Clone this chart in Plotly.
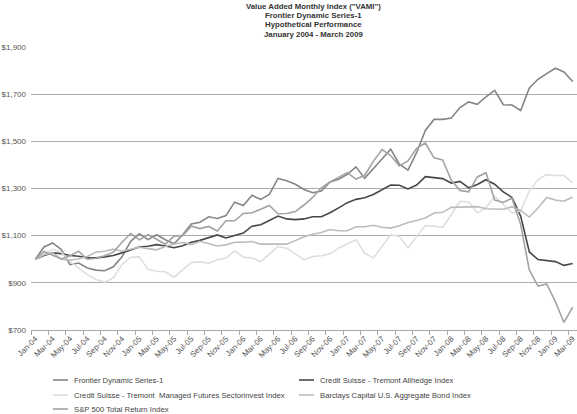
import plotly.graph_objects as go

# ---------------- data ----------------
years = ["04", "05", "06", "07", "08", "09"]
month_names = ["Jan", "Feb", "Mar", "Apr", "May", "Jun", "Jul", "Aug", "Sep", "Oct", "Nov", "Dec"]
months = [f"{m}-{y}" for y in years for m in month_names][:63]  # Jan-04 .. Mar-09

frontier = [1000, 1052, 1069, 1041, 977, 984, 963, 954, 951, 968, 1010, 1076, 1108, 1083, 1104, 1083,
            1066, 1104, 1150, 1157, 1180, 1173, 1185, 1242, 1228, 1271, 1254, 1275, 1343, 1333, 1318,
            1296, 1282, 1289, 1328, 1339, 1360, 1392, 1343, 1382, 1425, 1467, 1403, 1378, 1453, 1546,
            1593, 1593, 1599, 1643, 1667, 1657, 1689, 1716, 1655, 1654, 1631, 1726, 1763, 1787, 1810,
            1794, 1754]
allhedge = [1000, 1016, 1027, 1024, 1016, 1013, 1006, 1006, 1010, 1016, 1027, 1041, 1052, 1055, 1062,
            1056, 1049, 1057, 1072, 1080, 1090, 1103, 1090, 1100, 1111, 1140, 1146, 1164, 1183, 1171,
            1168, 1171, 1180, 1180, 1197, 1218, 1240, 1254, 1261, 1275, 1296, 1315, 1314, 1298, 1315,
            1350, 1346, 1342, 1323, 1330, 1303, 1317, 1337, 1318, 1286, 1262, 1183, 1031, 999, 994,
            990, 974, 982]
managed_futures = [1000, 1022, 1042, 1030, 990, 962, 935, 914, 903, 921, 978, 1008, 1010, 956, 949,
                   947, 924, 955, 986, 989, 983, 998, 1005, 1036, 1009, 1005, 990, 1022, 1054, 1047,
                   1023, 998, 1012, 1015, 1023, 1047, 1066, 1083, 1026, 1005, 1054, 1104, 1097, 1048,
                   1097, 1143, 1140, 1135, 1190, 1246, 1243, 1197, 1218, 1267, 1232, 1197, 1204, 1289,
                   1338, 1359, 1355, 1355, 1324]
barclays = [1000, 1019, 1027, 1000, 996, 1002, 1012, 1031, 1034, 1043, 1034, 1044, 1051, 1045, 1040,
            1054, 1065, 1071, 1062, 1076, 1065, 1056, 1061, 1072, 1072, 1075, 1064, 1063, 1062, 1064,
            1079, 1095, 1106, 1113, 1126, 1121, 1121, 1138, 1138, 1144, 1136, 1132, 1142, 1156, 1164,
            1175, 1196, 1199, 1220, 1221, 1225, 1223, 1214, 1213, 1212, 1223, 1207, 1179, 1217, 1262,
            1251, 1246, 1264]
sp500 = [1000, 1033, 1017, 1001, 1015, 1034, 1000, 1004, 1015, 1030, 1072, 1109, 1082, 1104, 1085,
         1064, 1098, 1100, 1140, 1130, 1139, 1120, 1163, 1163, 1194, 1197, 1212, 1228, 1193, 1194,
         1202, 1230, 1262, 1303, 1328, 1347, 1367, 1340, 1355, 1415, 1465, 1440, 1396, 1417, 1470,
         1493, 1430, 1421, 1335, 1292, 1286, 1349, 1367, 1251, 1241, 1259, 1147, 954, 886, 895,
         820, 732, 797]

series_names = ["Frontier Dynamic Series-1",
                "Credit Suisse - Tremont Allhedge Index",
                "Credit Suisse - Tremont \u00a0Managed Futures Sectorinvest Index",
                "Barclays Capital U.S. Aggregate Bond Index",
                "S&P 500 Total Return Index"]
series_values = [frontier, allhedge, managed_futures, barclays, sp500]
series_colors = ["#858585", "#474747", "#dedede", "#bcbcbc", "#a3a3a3"]

y_ticks = [700, 900, 1100, 1300, 1500, 1700, 1900]
y_tick_text = [f"${v:,}" for v in y_ticks]

# ---------------- figure ----------------
FONT = "Liberation Sans, Arial, sans-serif"
W, H = 577, 414
ML, MR, MT, MB = 31, 0, 47, 84
PW, PH = W - ML - MR, H - MT - MB

def px_x(px):
    return (px - ML) / PW

def px_y(py):
    return (H - MB - py) / PH

x_idx = list(range(len(months)))

fig = go.Figure()
for name, vals, col in zip(series_names, series_values, series_colors):
    fig.add_trace(go.Scatter(x=x_idx, y=vals, mode="lines", name=name, hoverinfo="skip",
                             line=dict(color=col, width=1.6), showlegend=False))

fig.update_layout(
    width=W, height=H,
    margin=dict(l=ML, r=MR, t=MT, b=MB, autoexpand=False),
    paper_bgcolor="white", plot_bgcolor="white",
    font=dict(family=FONT, size=8, color="#555555"),
    xaxis=dict(range=[-0.5, len(months) - 0.5], tickmode="array", automargin=False,
               tickvals=x_idx[::2], ticktext=months[::2], tickangle=-45,
               ticklabeloverflow="allow",
               showgrid=False, zeroline=False, showline=True, linecolor="#a8a8a8", linewidth=1,
               ticks="", tickfont=dict(size=8, color="#555555"),
               minor=dict(tickmode="array", tickvals=[i - 0.5 for i in x_idx[::2]],
                          ticks="outside", ticklen=4, tickcolor="#a8a8a8", showgrid=False)),
    yaxis=dict(range=[700, 1900], tickmode="array", tickvals=y_ticks, ticktext=y_tick_text,
               automargin=False, ticklabeloverflow="allow",
               showgrid=True, gridcolor="#acacac", gridwidth=1,
               zeroline=False, showline=False, ticks="", ticklabelstandoff=4,
               tickfont=dict(size=8, color="#555555")),
)

# title lines
title_lines = ['Value Added Monthly Index ("VAMI")', "Frontier Dynamic Series-1",
               "Hypothetical Performance", "January 2004 - March 2009"]
for k, t in enumerate(title_lines):
    fig.add_annotation(text=f"<b>{t}</b>", xref="paper", yref="paper",
                       x=px_x(313), y=px_y(6 + 9.5 * k), xanchor="center", yanchor="middle",
                       showarrow=False, font=dict(family=FONT, size=7.8, color="#333333"))

# legend (two columns)
leg_pos = [(53, 380), (299, 380), (53, 395), (299, 395), (53, 409)]
for (lx, ly), name, col in zip(leg_pos, series_names, series_colors):
    fig.add_shape(type="line", xref="paper", yref="paper",
                  x0=px_x(lx), x1=px_x(lx + 15), y0=px_y(ly), y1=px_y(ly),
                  line=dict(color=col, width=1.6))
    fig.add_annotation(text=name, xref="paper", yref="paper", x=px_x(lx + 19), y=px_y(ly),
                       xanchor="left", yanchor="middle", showarrow=False,
                       font=dict(family=FONT, size=7.7, color="#444444"))

fig.write_html("out.html", config={"displayModeBar": False, "staticPlot": True},
               post_script="document.body.style.margin='0';document.body.style.overflow='hidden';")
